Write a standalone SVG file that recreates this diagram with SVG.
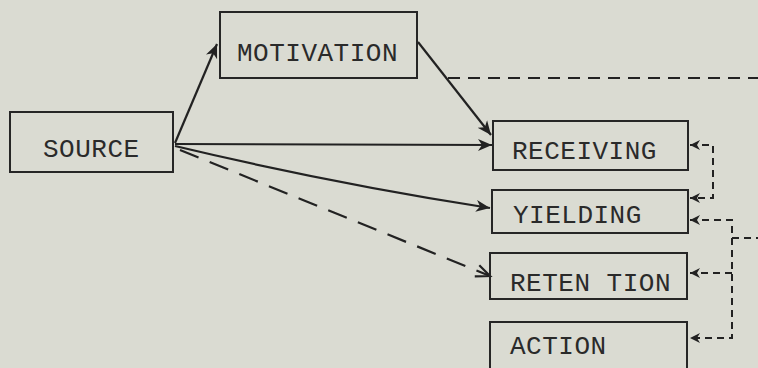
<svg xmlns="http://www.w3.org/2000/svg" width="758" height="368" viewBox="0 0 758 368">
<style>
.box{fill:none;stroke:#262626;stroke-width:2}
.lbl{font-family:"Liberation Mono","DejaVu Sans Mono",monospace;font-size:26px;letter-spacing:0.5px;fill:#2a2a2a}
.solid{fill:none;stroke:#222;stroke-width:2.2}
.dash{fill:none;stroke:#222;stroke-width:2.2;stroke-dasharray:20 12}
.dashs{fill:none;stroke:#222;stroke-width:2;stroke-dasharray:12 8}
.dsm{fill:none;stroke:#222;stroke-width:2;stroke-dasharray:7 5}
</style>
<defs>
<marker id="ah" markerUnits="userSpaceOnUse" markerWidth="16" markerHeight="14" refX="14" refY="6" orient="auto-start-reverse" viewBox="0 0 16 12">
<path d="M0,0 L14,6 L0,12 L4,6 z" fill="#222"/>
</marker>
<marker id="av" markerUnits="userSpaceOnUse" markerWidth="18" markerHeight="16" refX="15" refY="7" orient="auto" viewBox="0 0 18 14">
<path d="M1,1 L15,7 L1,13" fill="none" stroke="#222" stroke-width="2.2"/>
</marker>
<marker id="as" markerUnits="userSpaceOnUse" markerWidth="12" markerHeight="12" refX="10" refY="5" orient="auto-start-reverse" viewBox="0 0 12 10">
<path d="M0,0 L10,5 L0,10 L3,5 z" fill="#222"/>
</marker>
</defs>
<rect width="758" height="368" fill="#dadbd2"/>
<g id="connectors">
<path class="solid" d="M175,143 L217,44" marker-end="url(#ah)"/>
<path class="solid" d="M418,42 L491,135" marker-end="url(#ah)"/>
<path class="solid" d="M175,144 L492,145" marker-end="url(#ah)"/>
<path class="solid" d="M175,146 Q330,183 490,208" marker-end="url(#ah)"/>
<path class="dash" d="M180,150 L490,276" marker-end="url(#av)"/>
<path class="dashs" d="M448,78 L758,78"/>
<path class="dsm" d="M690,145 L713,145 L713,198 L690,198" marker-start="url(#as)" marker-end="url(#as)"/>
<path class="dsm" d="M690,220 L732,220 L732,338 L690,338" marker-start="url(#as)" marker-end="url(#as)"/>
<path class="dsm" d="M732,273 L690,273" marker-end="url(#as)"/>
<path class="dsm" d="M732,238 L758,238"/>
</g>
<g id="source"><rect class="box" x="10" y="112" width="163" height="60"/><text class="lbl" x="43" y="157">SOURCE</text></g>
<g id="motivation"><rect class="box" x="220" y="12" width="197" height="66"/><text class="lbl" x="237" y="61">MOTIVATION</text></g>
<g id="receiving"><rect class="box" x="493" y="121" width="195" height="49"/><text class="lbl" x="512" y="159">RECEIVING</text></g>
<g id="yielding"><rect class="box" x="492" y="190" width="196" height="43"/><text class="lbl" x="513" y="223">YIELDING</text></g>
<g id="retention"><rect class="box" x="490" y="253" width="197" height="46"/><text class="lbl" x="510" y="291">RETEN TION</text></g>
<g id="action"><rect class="box" x="490" y="322" width="197" height="48"/><text class="lbl" x="510" y="354">ACTION</text></g>
</svg>
